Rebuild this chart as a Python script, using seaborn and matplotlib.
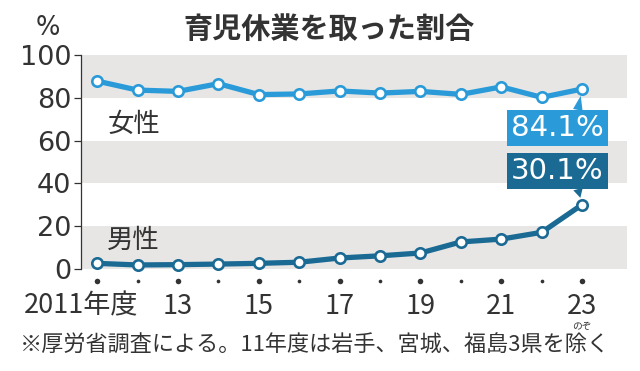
import matplotlib
matplotlib.use("Agg")
import matplotlib.pyplot as plt
import matplotlib.transforms as mtransforms
import seaborn as sns
import pandas as pd
import numpy as np

# ---- data ----
years = [2011, 2012, 2013, 2014, 2015, 2016, 2017, 2018, 2019, 2020, 2021, 2022, 2023]
women = [87.8, 83.6, 83.0, 86.6, 81.5, 81.8, 83.2, 82.2, 83.0, 81.6, 85.1, 80.2, 84.1]
men = [2.63, 1.89, 2.03, 2.30, 2.65, 3.16, 5.14, 6.16, 7.48, 12.65, 13.97, 17.13, 30.1]
xtick_years = [2011, 2013, 2015, 2017, 2019, 2021, 2023]
xtick_labels = ["2011年度", "13", "15", "17", "19", "21", "23"]
yticks = [0, 20, 40, 60, 80, 100]
title = "育児休業を取った割合"
note = "※厚労省調査による。11年度は岩手、宮城、福島3県を除く"
ruby = "のぞ"
series_names = ["女性", "男性"]
callouts = ["84.1%", "30.1%"]

df = pd.DataFrame({"year": years * 2,
                   "value": women + men,
                   "sex": [series_names[0]] * len(years) + [series_names[1]] * len(years)})

C_W = "#2a9bd8"
C_M = "#1b6a94"
TXT = "#333333"
BAND = "#e7e6e5"
JP = ["Noto Sans CJK JP", "DejaVu Sans"]

sns.set_theme(style="white")
plt.rcParams["font.family"] = JP

fig = plt.figure(figsize=(6.4, 3.71), dpi=100)
ax = fig.add_axes([81 / 640, 1 - 269 / 371, (627 - 81) / 640, (269 - 55) / 371])

for lo in (0, 40, 80):
    ax.axhspan(lo, lo + 20, color=BAND, lw=0, zorder=0)

sns.lineplot(data=df, x="year", y="value", hue="sex",
             palette={series_names[0]: C_W, series_names[1]: C_M},
             lw=3.8, marker="o", markersize=7.5, markerfacecolor="white",
             markeredgewidth=1.9, legend=False, ax=ax, zorder=3)
for line, c in zip(ax.lines, [C_W, C_M]):
    line.set_markeredgecolor(c)
    line.set_clip_on(False)

ax.set_xlim(2010.60, 2024.11)
ax.set_ylim(0, 100)
ax.set_xlabel("")
ax.set_ylabel("")

# y axis
for s in ["top", "right", "bottom"]:
    ax.spines[s].set_visible(False)
ax.spines["left"].set_color(TXT)
ax.spines["left"].set_linewidth(0.9)
ax.set_yticks(yticks)
ax.set_yticklabels([str(v) for v in yticks], family="DejaVu Sans", fontsize=19.5,
                   color=TXT)
ax.tick_params(axis="y", direction="out", length=5, width=0.9, color=TXT, pad=2, left=True)

# x axis: dot ticks and labels
ax.set_xticks(xtick_years)
ax.set_xticklabels(xtick_labels, fontsize=19.5, color=TXT,
                   family=["Liberation Sans Narrow", "Noto Sans CJK JP"])
ax.tick_params(axis="x", length=0, pad=17, bottom=False)
lab0 = ax.get_xticklabels()[0]
lab0.set_transform(lab0.get_transform() +
                   mtransforms.ScaledTranslation(-16 / 100, 0, fig.dpi_scale_trans))
trans = mtransforms.blended_transform_factory(ax.transData, ax.transAxes)
big = [y for y in years if y in xtick_years]
small = [y for y in years if y not in xtick_years]
ax.scatter(big, [-0.058] * len(big), s=16, color=TXT, transform=trans, clip_on=False, lw=0)
ax.scatter(small, [-0.058] * len(small), s=7, color=TXT, transform=trans, clip_on=False, lw=0)

# series labels
ax.text(2011.9, 67.5, series_names[0], fontsize=19, color=TXT, ha="center", va="center")
ax.text(2011.9, 13.5, series_names[1], fontsize=19, color=TXT, ha="center", va="center")

# callouts
for txt, yv, ty, c, rp in [(callouts[0], women[-1], 65.9, C_W, (0.71, 1.0)),
                           (callouts[1], men[-1], 45.8, C_M, (0.71, 0.0))]:
    ax.annotate(txt, xy=(years[-1], yv), xytext=(2022.39, ty), textcoords="data",
                ha="center", va="center", fontsize=21, color="white",
                family="DejaVu Sans",
                bbox=dict(boxstyle="square,pad=0.14", fc=c, ec="none"),
                arrowprops=dict(arrowstyle="wedge,tail_width=0.5,shrink_factor=0.5",
                                fc=c, ec="none", relpos=rp, shrinkA=0, shrinkB=5,
                                mutation_scale=14),
                zorder=5)

# titles / notes
fig.text(48 / 640, 1 - 28 / 371, "%", family="DejaVu Sans", fontsize=18.5, color=TXT,
         ha="center", va="center")
fig.text(329 / 640, 1 - 29 / 371, title, fontsize=21, fontweight="bold", color=TXT,
         ha="center", va="center")
fig.text(20 / 640, 1 - 346 / 371, note, fontsize=15.9, color=TXT, ha="left", va="center")
fig.text(582 / 640, 1 - 326 / 371, ruby, fontsize=7, color=TXT, ha="center", va="center")

fig.savefig("out.png", dpi=100)
